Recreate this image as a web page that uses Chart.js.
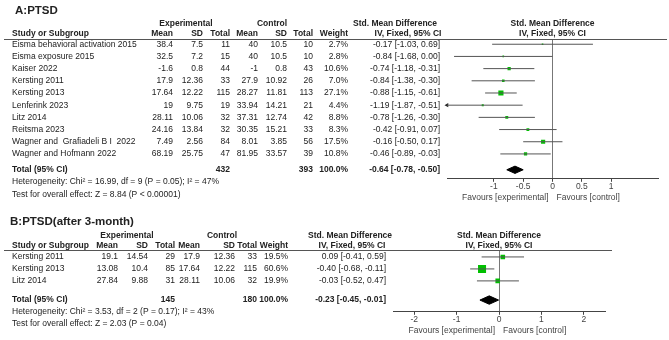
<!DOCTYPE html>
<html>
<head>
<meta charset="utf-8">
<script src="https://cdn.jsdelivr.net/npm/chart.js@4.4.0/dist/chart.umd.min.js"></script>
<style>
  html, body { margin: 0; padding: 0; background: #fff; }
  #wrap { position: relative; width: 669px; height: 340px; }
  canvas { position: absolute; left: 0; }
  #chartA { top: 0; }
  #chartB { top: 205px; }
</style>
</head>
<body>
<div id="wrap">
  <canvas id="chartA" width="669" height="205"></canvas>
  <canvas id="chartB" width="669" height="135"></canvas>
</div>
<script>
// === Panel A: PTSD ===
const studiesA = [
  "Eisma behavioral activation 2015", "Eisma exposure 2015", "Kaiser 2022",
  "Kersting 2011", "Kersting 2013", "Lenferink 2023", "Litz 2014",
  "Reitsma 2023", "Wagner and  Grafiadeli B I  2022", "Wagner and Hofmann 2022"
];
const expMeanA = [38.4, 32.5, -1.6, 17.9, 17.64, 19, 28.11, 24.16, 7.49, 68.19];
const expSdA = [7.5, 7.2, 0.8, 12.36, 12.22, 9.75, 10.06, 13.84, 2.56, 25.75];
const expNA = [11, 15, 44, 33, 115, 19, 32, 32, 84, 47];
const ctlMeanA = [40, 40, -1, 27.9, 28.27, 33.94, 37.31, 30.35, 8.01, 81.95];
const ctlSdA = [10.5, 10.5, 0.8, 10.92, 11.81, 14.21, 12.74, 15.21, 3.85, 33.57];
const ctlNA = [10, 10, 43, 26, 113, 21, 42, 33, 56, 39];
const weightA = [2.7, 2.8, 10.6, 7.0, 27.1, 4.4, 8.8, 8.3, 17.5, 10.8];
const smdA = [-0.17, -0.84, -0.74, -0.84, -0.88, -1.19, -0.78, -0.42, -0.16, -0.46];
const loA = [-1.03, -1.68, -1.18, -1.38, -1.15, -1.87, -1.26, -0.91, -0.50, -0.89];
const hiA = [0.69, 0.00, -0.31, -0.30, -0.61, -0.51, -0.30, 0.07, 0.17, -0.03];
const totalA = { smd: -0.64, lo: -0.78, hi: -0.50, nExp: 432, nCtl: 393 };
const statsA = [
  "Heterogeneity: Chi\u00b2 = 16.99, df = 9 (P = 0.05); I\u00b2 = 47%",
  "Test for overall effect: Z = 8.84 (P < 0.00001)"
];
const ticksA = [-1, -0.5, 0, 0.5, 1];

// === Panel B: PTSD after 3 months ===
const studiesB = ["Kersting 2011", "Kersting 2013", "Litz 2014"];
const expMeanB = [19.1, 13.08, 27.84];
const expSdB = [14.54, 10.4, 9.88];
const expNB = [29, 85, 31];
const ctlMeanB = [17.9, 17.64, 28.11];
const ctlSdB = [12.36, 12.22, 10.06];
const ctlNB = [33, 115, 32];
const weightB = [19.5, 60.6, 19.9];
const smdB = [0.09, -0.40, -0.03];
const loB = [-0.41, -0.68, -0.52];
const hiB = [0.59, -0.11, 0.47];
const totalB = { smd: -0.23, lo: -0.45, hi: -0.01, nExp: 145, nCtl: 180 };
const statsB = [
  "Heterogeneity: Chi\u00b2 = 3.53, df = 2 (P = 0.17); I\u00b2 = 43%",
  "Test for overall effect: Z = 2.03 (P = 0.04)"
];
const ticksB = [-2, -1, 0, 1, 2];

const FONT = '"Liberation Sans", Arial, sans-serif';
const TEXT = "#222";
Chart.defaults.font.family = FONT;

// layout of each panel (pixels, relative to its canvas)
const panelA = {
  title: "A:PTSD", titleX: 15, titleY: 11,
  studies: studiesA, expMean: expMeanA, expSd: expSdA, expN: expNA,
  ctlMean: ctlMeanA, ctlSd: ctlSdA, ctlN: ctlNA, weight: weightA,
  smd: smdA, lo: loA, hi: hiA, total: totalA, stats: statsA, ticks: ticksA,
  xMin: -1.8, xMax: 1.8, yMin: -0.43, yMax: 11.04, totalRow: 10.3,
  cols: [173, 203, 230, 258, 287, 313, 348, 440], nameX: 12,
  expHeadX: 186, ctlHeadX: 272, smdHeadX: 395, ivHeadX: 408,
  groupY: 23.5, headY: 33.5, ruleEnd: 667,
  boxScale: 0.7, diamondH: 0.3,
  padding: { left: 447, right: 11, top: 39, bottom: 13 }
};

const panelB = {
  title: "B:PTSD(after 3-month)", titleX: 10, titleY: 17,
  studies: studiesB, expMean: expMeanB, expSd: expSdB, expN: expNB,
  ctlMean: ctlMeanB, ctlSd: ctlSdB, ctlN: ctlNB, weight: weightB,
  smd: smdB, lo: loB, hi: hiB, total: totalB, stats: statsB, ticks: ticksB,
  xMin: -2.5, xMax: 2.5, yMin: -0.58, yMax: 4.58, totalRow: 3.6,
  cols: [118, 148, 175, 200, 235, 257, 288, 386], nameX: 12,
  expHeadX: 127, ctlHeadX: 222, smdHeadX: 350, ivHeadX: 352,
  groupY: 31, headY: 41, ruleEnd: 612,
  boxScale: 0.73, diamondH: 0.35,
  padding: { left: 393, right: 64, top: 45, bottom: 15 }
};

function ciText(m, lo, hi) {
  return `${m.toFixed(2)} [${lo.toFixed(2)}, ${hi.toFixed(2)}]`;
}

function setFont(ctx, bold, size) {
  ctx.font = `${bold ? "bold " : ""}${size}px ${FONT}`;
}

// === Plugin that writes the study table next to the forest plot ===
function makeTablePlugin(p) {
  return {
    id: "forestTable",
    afterDraw(chart) {
      const ctx = chart.ctx;
      const y = chart.scales.y;
      const x0 = chart.scales.x.getPixelForValue(0);
      const area = chart.chartArea;
      const c = p.cols;

      ctx.save();
      ctx.fillStyle = TEXT;
      ctx.textBaseline = "middle";

      // title
      setFont(ctx, true, 11.5);
      ctx.textAlign = "left";
      ctx.fillText(p.title, p.titleX, p.titleY);

      // group headers
      setFont(ctx, true, 8.5);
      ctx.textAlign = "center";
      ctx.fillText("Experimental", p.expHeadX, p.groupY);
      ctx.fillText("Control", p.ctlHeadX, p.groupY);
      ctx.fillText("Std. Mean Difference", p.smdHeadX, p.groupY);
      ctx.fillText("Std. Mean Difference", x0, p.groupY);
      ctx.fillText("IV, Fixed, 95% CI", x0, p.headY);

      // column headers
      ctx.textAlign = "left";
      ctx.fillText("Study or Subgroup", p.nameX, p.headY);
      ctx.textAlign = "right";
      ["Mean", "SD", "Total", "Mean", "SD", "Total", "Weight"].forEach((t, i) =>
        ctx.fillText(t, c[i], p.headY)
      );
      ctx.textAlign = "center";
      ctx.fillText("IV, Fixed, 95% CI", p.ivHeadX, p.headY);

      // header rule
      ctx.strokeStyle = "#555";
      ctx.lineWidth = 1;
      ctx.beginPath();
      ctx.moveTo(4, Math.round(area.top) + 0.5);
      ctx.lineTo(p.ruleEnd, Math.round(area.top) + 0.5);
      ctx.stroke();

      // study rows
      setFont(ctx, false, 8.5);
      p.studies.forEach((name, i) => {
        const py = y.getPixelForValue(i);
        ctx.textAlign = "left";
        ctx.fillText(name, p.nameX, py);
        ctx.textAlign = "right";
        [p.expMean[i], p.expSd[i], p.expN[i], p.ctlMean[i], p.ctlSd[i], p.ctlN[i]].forEach((v, k) =>
          ctx.fillText(String(v), c[k], py)
        );
        ctx.fillText(p.weight[i].toFixed(1) + "%", c[6], py);
        ctx.fillText(ciText(p.smd[i], p.lo[i], p.hi[i]), c[7], py);
      });

      // total row
      const ty = y.getPixelForValue(p.totalRow);
      setFont(ctx, true, 8.5);
      ctx.textAlign = "left";
      ctx.fillText("Total (95% CI)", p.nameX, ty);
      ctx.textAlign = "right";
      ctx.fillText(String(p.total.nExp), c[2], ty);
      ctx.fillText(String(p.total.nCtl), c[5], ty);
      ctx.fillText("100.0%", c[6], ty);
      ctx.fillText(ciText(p.total.smd, p.total.lo, p.total.hi), c[7], ty);

      // heterogeneity / overall effect
      setFont(ctx, false, 8.5);
      ctx.textAlign = "left";
      p.stats.forEach((s, k) => ctx.fillText(s, p.nameX, y.getPixelForValue(p.totalRow + 1 + k)));

      // favours labels under the axis
      const fy = area.bottom + 19;
      ctx.fillStyle = "#444";
      ctx.textAlign = "right";
      ctx.fillText("Favours [experimental]", x0 - 4, fy);
      ctx.textAlign = "left";
      ctx.fillText("Favours [control]", x0 + 4, fy);
      ctx.restore();
    }
  };
}

// === Build one forest plot ===
function buildForest(canvasId, p) {
  const datasets = [];

  // confidence interval lines
  p.studies.forEach((_, i) => {
    datasets.push({
      data: [
        { x: Math.max(p.lo[i], p.xMin), y: i },
        { x: Math.min(p.hi[i], p.xMax), y: i }
      ],
      showLine: true,
      borderColor: "#555",
      borderWidth: 1,
      pointRadius: 0
    });
  });

  // arrows where the interval runs off the axis
  const arrows = [];
  p.studies.forEach((_, i) => {
    if (p.lo[i] < p.xMin) arrows.push({ x: p.xMin, y: i });
  });
  datasets.push({
    data: arrows,
    pointStyle: "triangle",
    rotation: -90,
    pointRadius: 2.5,
    backgroundColor: "#222",
    borderColor: "#222",
    borderWidth: 0,
    clip: false
  });

  // study estimates (box size by weight)
  datasets.push({
    data: p.smd.map((v, i) => ({ x: v, y: i })),
    pointStyle: "rect",
    pointRadius: p.weight.map((w) => Math.sqrt(w) * p.boxScale),
    backgroundColor: "#00c000",
    borderColor: "#00c000",
    borderWidth: 0
  });

  // pooled estimate diamond
  const t = p.total;
  datasets.push({
    data: [
      { x: t.lo, y: p.totalRow },
      { x: t.smd, y: p.totalRow - p.diamondH },
      { x: t.hi, y: p.totalRow },
      { x: t.smd, y: p.totalRow + p.diamondH },
      { x: t.lo, y: p.totalRow }
    ],
    showLine: true,
    fill: "shape",
    borderColor: "#000",
    backgroundColor: "#000",
    borderWidth: 1,
    pointRadius: 0,
    tension: 0
  });

  return new Chart(document.getElementById(canvasId), {
    type: "scatter",
    data: { datasets },
    options: {
      responsive: false,
      animation: false,
      events: [],
      layout: { padding: p.padding },
      plugins: { legend: { display: false }, tooltip: { enabled: false } },
      scales: {
        x: {
          type: "linear",
          min: p.xMin,
          max: p.xMax,
          afterBuildTicks: (axis) => {
            axis.ticks = p.ticks.map((v) => ({ value: v }));
          },
          ticks: {
            autoSkip: false,
            maxRotation: 0,
            padding: 0,
            color: "#444",
            font: { size: 8.5 },
            callback: (v) => String(v)
          },
          grid: {
            color: (ctx) => (ctx.tick && ctx.tick.value === 0 ? "#777" : "rgba(0,0,0,0)"),
            tickColor: "#444",
            tickLength: 3
          },
          border: { display: true, color: "#444", width: 1 }
        },
        y: { type: "linear", reverse: true, min: p.yMin, max: p.yMax, display: false }
      }
    },
    plugins: [makeTablePlugin(p)]
  });
}

buildForest("chartA", panelA);
buildForest("chartB", panelB);
</script>
</body>
</html>
